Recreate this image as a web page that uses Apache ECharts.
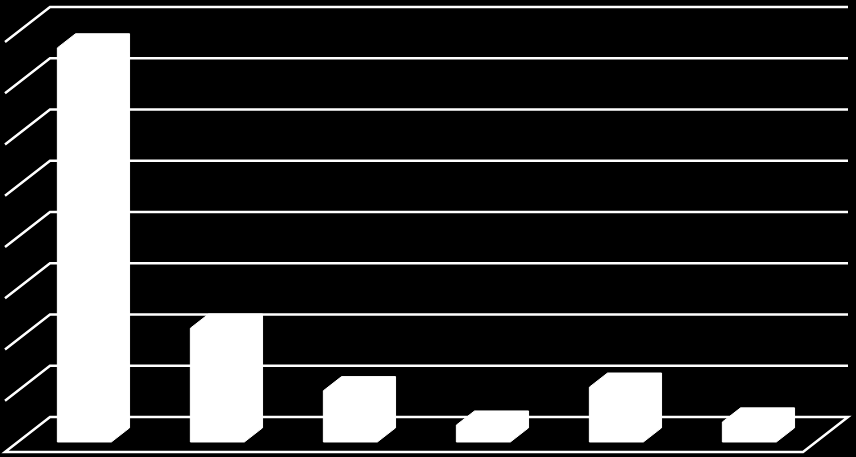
<!DOCTYPE html>
<html>
<head>
<meta charset="utf-8">
<script src="https://cdn.jsdelivr.net/npm/echarts@6/dist/echarts.min.js"></script>
<style>
  html, body { margin: 0; padding: 0; background: #000; }
  #chart { width: 856px; height: 457px; }
</style>
</head>
<body>
<div id="chart"></div>
<script>
// 数据
var categories = ['1', '2', '3', '4', '5', '6'];
var values = [7.69, 2.22, 1.0, 0.33, 1.07, 0.39];
var yTicks = [0, 1, 2, 3, 4, 5, 6, 7, 8];

// 透视深度（从背墙到前沿）
var DEPTH_X = -45, DEPTH_Y = 35;
var FRONT = 0.714, BACK = 0.31;   // 柱体前后面所在深度
var BAR_RATIO = 0.406;

function wallItem(params, api) {
	var cs = params.coordSys;
	var v = api.value(0);
	var y = api.coord([0, v])[1];
	var x0 = cs.x, x1 = cs.x + cs.width;
	var style = { stroke: '#fff', lineWidth: 2.5, fill: null };
	if (v === 0) {
		// 底面
		return {
			type: 'polygon',
			shape: { points: [[x0 + DEPTH_X, y + DEPTH_Y], [x0, y], [x1, y], [x1 + DEPTH_X, y + DEPTH_Y]] },
			style: style
		};
	}
	return {
		type: 'polyline',
		shape: { points: [[x0 + DEPTH_X, y + DEPTH_Y], [x0, y], [x1, y]] },
		style: style
	};
}

function barItem(params, api) {
	var top = api.coord([api.value(0), api.value(1)]);
	var base = api.coord([api.value(0), 0]);
	var hw = api.size([1, 0])[0] * BAR_RATIO / 2;
	var fx = top[0] + DEPTH_X * FRONT, fy = DEPTH_Y * FRONT;
	var bx = top[0] + DEPTH_X * BACK, by = DEPTH_Y * BACK;
	return {
		type: 'polygon',
		shape: {
			points: [
				[fx - hw, base[1] + fy],
				[fx - hw, top[1] + fy],
				[bx - hw, top[1] + by],
				[bx + hw, top[1] + by],
				[bx + hw, base[1] + by],
				[fx + hw, base[1] + fy]
			]
		},
		style: { fill: '#fff', stroke: '#fff', lineWidth: 1 }
	};
}

var myChart = echarts.init(document.getElementById('chart'));
var option = {
	backgroundColor: '#000',
	animation: false,
	grid: { left: 50, right: 8, top: 7, bottom: 40 },
	xAxis: { type: 'category', data: categories, show: false },
	yAxis: { type: 'value', min: 0, max: 8, interval: 1, show: false },
	series: [
		{
			type: 'custom',
			renderItem: wallItem,
			data: yTicks.map(function (v) { return [v]; }),
			encode: { y: 0 },
			silent: true,
			z: 1
		},
		{
			type: 'custom',
			renderItem: barItem,
			data: values.map(function (v, i) { return [i, v]; }),
			encode: { x: 0, y: 1 },
			z: 2
		}
	]
};
myChart.setOption(option, true);
</script>
</body>
</html>
